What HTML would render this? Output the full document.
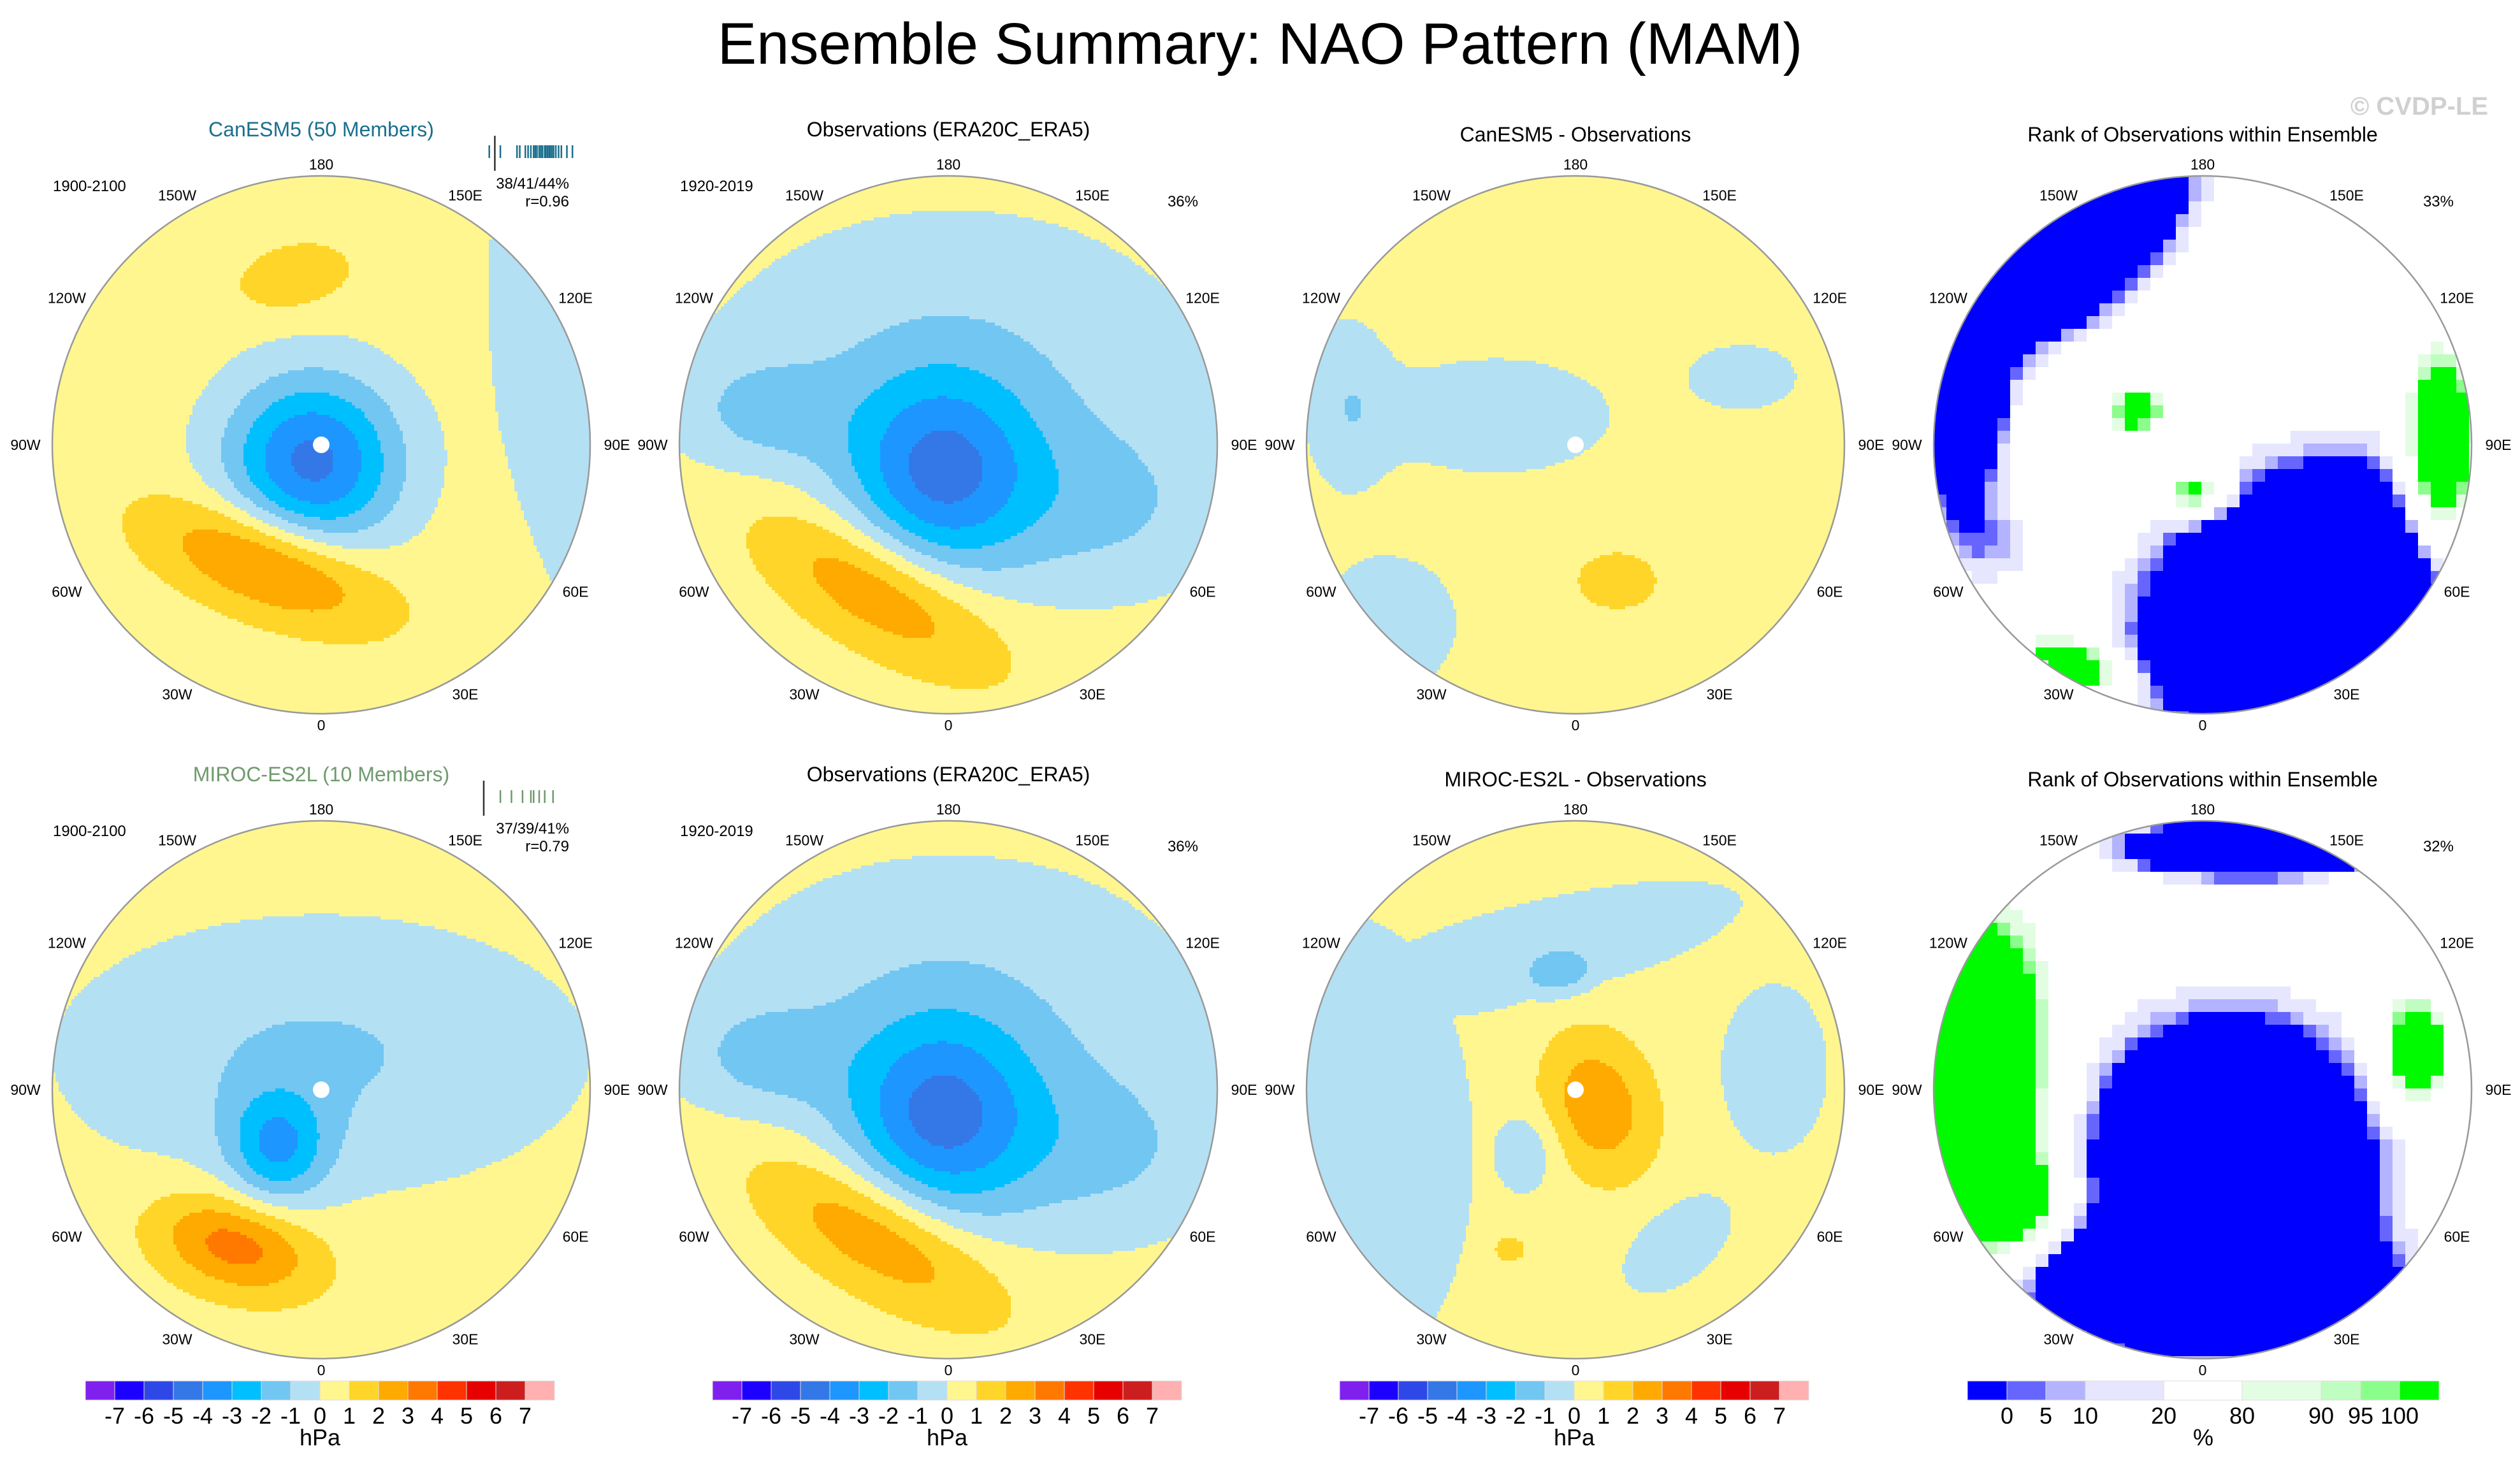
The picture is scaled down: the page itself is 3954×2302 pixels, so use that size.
<!DOCTYPE html>
<html><head><meta charset="utf-8"><style>
html,body{margin:0;padding:0;background:#fff}
svg{display:block}
text{font-family:"Liberation Sans",sans-serif}
</style></head><body>
<svg id="fig" width="3954" height="2302" viewBox="0 0 3954 2302" xmlns="http://www.w3.org/2000/svg">
<rect width="3954" height="2302" fill="#fff"/>
<text x="1977" y="100" font-size="92" text-anchor="middle" fill="#000">Ensemble Summary: NAO Pattern (MAM)</text>
<text x="3904" y="180" font-size="40" font-weight="bold" text-anchor="end" fill="#d0d0d0">© CVDP-LE</text>
<g id="panels"></g>
</svg>
<script>
// ---- data ----
const levelColors=["#8020ee","#1e00ff","#2e48e8","#3478e8","#1e96ff","#00bfff","#72c6f2","#b4e0f4","#fff68f","#ffd52a","#ffaa00","#ff7800","#ff3300","#e60000","#cc1e1e","#ffb0b0"];
const levelTicks=[-7,-6,-5,-4,-3,-2,-1,0,1,2,3,4,5,6,7];
const rankColors=["#0000ff","#6666ff","#b3b3ff","#e6e6ff","#ffffff","#e3fde3","#c0fdc0","#8bfd8b","#00fa00"];
const rankTicks=[0,5,10,20,80,90,95,100];
const rankBounds=[0,5,10,20,80,90,95,100];
const lonLabels=["0","30E","60E","90E","120E","150E","180","150W","120W","90W","60W","30W"];
// blobs: [lat, lon, amplitude, sigmaX(deg), sigmaY(deg), rotation(deg)]
const canesmBlobs=[[85,-27,-4.8,16,16,0],[56,-24,3.2,21,9,20],[46,-171,1.3,10.7,6.2,-12],[22,100,-1.5,14,45,-10]];
const obsBlobs=[[82,-15,-3.9,17,18,0],[72,175,-1.4,45,30,0],[45,68,-1.3,22,16,0],[40,-100,-1.3,14,10,0],[48,-27,2.7,24,10,30]];
const diff1Blobs=[[68,-110,-1.5,20,10,0],[23,-46,-1.4,12,12,0],[43,112,-1.3,10,6,0],[53,17,1.4,7,5,0],[30,-100,-1.3,8,16,0]];
const rank1Blobs=[[43,32,-150,30,22,-30],[28,-145,-150,25,12,-38],[25,-100,-150,8,16,0],[71,-117,80,5,4,0],[77,-10,90,6,4,0],[28,88,150,6,16,0],[24,-30,120,8,4,20],[28,-65,-40,12,10,0]];
const mirocBlobs=[[81,180,-1.6,46,24,0],[71,-37,-3.0,9,10.5,0],[44,-29,3.1,15,8.7,15]];
const diff2Blobs=[[30,-75,-1.4,22,42,0],[52.6,-165,-1.4,38,9,-14],[58.5,-172,-2.4,8,5,-10],[69,-39,-1.3,6,8,0],[38,96,-1.3,10,16,0],[42,33.5,-1.3,12,7,-40],[83,56,2.3,9.5,13,-17],[45,-22.6,1.5,3,2.5,0]];
const rank2Blobs=[[70,20,-150,26,26,0],[38,0,-150,30,10,0],[33,-94,130,12,28,0],[31,-61,100,10,8,0],[26,169,-150,22,5,0],[34,100,110,6,10,0],[41,31,80,8,4,0]];
const members1=[31,33,36,36.5,37.5,38,38.5,39,39.3,39.6,40,40.3,40.6,41,41.2,41.5,41.8,42,42.3,42.6,43,43.5,44,45,46];
const members2=[33,35,37,38.5,39,40,41,42.5];

const R=422, C1=[504,1488,2472,3456], RY=[698,1710];
const panels=[
 {cx:C1[0],cy:RY[0],type:"p",blobs:canesmBlobs,title:"CanESM5 (50 Members)",tc:"#1a6f8e",dot:true,name:"canesm5-pattern"},
 {cx:C1[1],cy:RY[0],type:"p",blobs:obsBlobs,title:"Observations (ERA20C_ERA5)",tc:"#000",dot:false,name:"observations-pattern-top"},
 {cx:C1[2],cy:RY[0],type:"p",blobs:diff1Blobs,title:"CanESM5 - Observations",tc:"#000",dot:true,name:"canesm5-minus-obs"},
 {cx:C1[3],cy:RY[0],type:"r",blobs:rank1Blobs,title:"Rank of Observations within Ensemble",tc:"#000",dot:false,name:"rank-canesm5"},
 {cx:C1[0],cy:RY[1],type:"p",blobs:mirocBlobs,title:"MIROC-ES2L (10 Members)",tc:"#6f9a6f",dot:true,name:"miroc-pattern"},
 {cx:C1[1],cy:RY[1],type:"p",blobs:obsBlobs,title:"Observations (ERA20C_ERA5)",tc:"#000",dot:false,name:"observations-pattern-bottom"},
 {cx:C1[2],cy:RY[1],type:"p",blobs:diff2Blobs,title:"MIROC-ES2L - Observations",tc:"#000",dot:true,name:"miroc-minus-obs",minNeg:true},
 {cx:C1[3],cy:RY[1],type:"r",blobs:rank2Blobs,title:"Rank of Observations within Ensemble",tc:"#000",dot:false,name:"rank-miroc"}
];
// ---- helpers ----
const NS="http://www.w3.org/2000/svg";
function mk(tag,attrs,parent){const e=document.createElementNS(NS,tag);for(const k in attrs)e.setAttribute(k,attrs[k]);parent.appendChild(e);return e;}
const K=R/70;
function proj(lat,lon,cx,cy){const rr=K*(90-lat);const a=lon*Math.PI/180;return [cx+rr*Math.sin(a),cy+rr*Math.cos(a)];}
function field(x,y,p,bg){let pos=0,neg=0;for(const b of p.blobs){const c=proj(b[0],b[1],p.cx,p.cy);const dx=x-c[0],dy=y-c[1];const t=b[5]*Math.PI/180;const u=(dx*Math.cos(t)+dy*Math.sin(t))/(b[3]*K),v=(-dx*Math.sin(t)+dy*Math.cos(t))/(b[4]*K);const val=b[2]*Math.exp(-0.5*(u*u+v*v));
 if(p.minNeg&&val<0){neg=Math.min(neg,val);}else{pos+=val;}}return bg+pos+neg;}
function pIndex(v){return Math.max(0,Math.min(15,Math.floor(v)+8));}
function rIndex(v){if(v<=0)return 0;for(let i=1;i<rankBounds.length;i++){if(v<=rankBounds[i])return i;}return 8;}
const root=document.getElementById("panels");
panels.forEach((p,pi)=>{
 const g=mk("g",{},root);
 
 
 const defs=mk("defs",{},g);
 const cp=mk("clipPath",{id:"clip"+pi},defs);
 mk("circle",{cx:p.cx,cy:p.cy,r:R},cp);
 const fg=mk("g",{"clip-path":"url(#clip"+pi+")"},g);
 
 
 const cell=p.type==="p"?5:20;
 const cols=p.type==="p"?levelColors:rankColors;
 const bg=p.type==="p"?0.5:50;
 for(let y=p.cy-R;y<p.cy+R;y+=cell){
  let runStart=p.cx-R,runIdx=-1;
  for(let x=p.cx-R;x<=p.cx+R+cell;x+=cell){
   const v=field(x+cell/2,y+cell/2,p,bg);
   const idx=x>p.cx+R?-2:(p.type==="p"?pIndex(v):rIndex(v));
   if(idx!==runIdx){
    if(runIdx>=0){const r=mk("rect",{x:runStart,y:y,width:x-runStart+0.6,height:cell+0.6,fill:cols[runIdx]},fg);
     
     }
    runStart=x;runIdx=idx;
   }
  }
 }
 const border=mk("circle",{cx:p.cx,cy:p.cy,r:R,fill:"none",stroke:"#999",'stroke-width':2.5},g);
 
 
 if(p.dot){const d=mk("circle",{cx:p.cx,cy:p.cy,r:13,fill:"#fff"},g);
  
  }
 lonLabels.forEach((lab,i)=>{
  const a=i*30*Math.PI/180;const dist=R+18+24*Math.abs(Math.sin(a));
  const t=mk("text",{x:p.cx+dist*Math.sin(a),y:p.cy+dist*Math.cos(a)+8,'font-size':23,'text-anchor':'middle',fill:'#000'},g);
  t.textContent=lab;
  
  
 });
 const tt=mk("text",{x:p.cx,y:p.cy-(pi%4<2?484:476),'font-size':32,'text-anchor':'middle',fill:p.tc},g);
 tt.textContent=p.title;
 
 
});
// annotations
function txt(x,y,s,str,anchor,name,col){const t=mk("text",{x:x,y:y,'font-size':s,'text-anchor':anchor||'start',fill:col||'#000'},root);t.textContent=str;
 
 return t;}
[[0,"1900-2100"],[1,"1920-2019"]].forEach(a=>{RY.forEach(cy=>{txt(C1[a[0]]-421,cy-398,24,a[1],'start','period-label');});});
txt(893,RY[0]-402,24,"38/41/44%","end","pct-explained-stats");
txt(893,RY[0]-374,24,"r=0.96","end","pattern-correlation");
txt(893,RY[1]-402,24,"37/39/41%","end","pct-explained-stats");
txt(893,RY[1]-374,24,"r=0.79","end","pattern-correlation");
txt(1880,RY[0]-374,24,"36%","end","pct-explained");
txt(1880,RY[1]-374,24,"36%","end","pct-explained");
txt(3850,RY[0]-374,24,"33%","end","pct-explained");
txt(3850,RY[1]-374,24,"32%","end","pct-explained");
// member barcodes
function bx(v){return 759+(v-30)*8.7;}
[[members1,RY[0],"#1a6f8e",41],[members2,RY[1],"#6f9a6f",39]].forEach(m=>{
 m[0].forEach(v=>{const l=mk("line",{x1:bx(v),x2:bx(v),y1:m[1]-470,y2:m[1]-450,stroke:m[2],'stroke-width':2.5},root);
  
  });
 const ol=mk("line",{x1:bx(m[3]-9),x2:bx(m[3]-9),y1:m[1]-485,y2:m[1]-430,stroke:"#333",'stroke-width':2.5},root);
 
 
});
// colorbars
[0,1,2].forEach(c=>{
 const x0=134+c*984,w=46,y0=2167,h=30;
 levelColors.forEach((col,i)=>{const r=mk("rect",{x:x0+i*w,y:y0,width:w,height:h,fill:col,stroke:"#ddd",'stroke-width':1},root);
  
  });
 levelTicks.forEach((v,i)=>{txt(x0+(i+1)*w,2234,36,String(v),'middle','colorbar-tick');});
 txt(x0+8*w,2268,36,"hPa",'middle','colorbar-unit');
});
const rb=[3087,3149,3210,3272,3395,3518,3642,3704,3765,3827];
rankColors.forEach((col,i)=>{const r=mk("rect",{x:rb[i],y:2167,width:rb[i+1]-rb[i],height:30,fill:col,stroke:"#ddd",'stroke-width':1},root);
 
 });
rankTicks.forEach((v,i)=>{txt(rb[i+1],2234,36,String(v),'middle','rank-colorbar-tick');});
txt(3457,2268,36,"%",'middle','rank-colorbar-unit');
</script>
</body></html>
